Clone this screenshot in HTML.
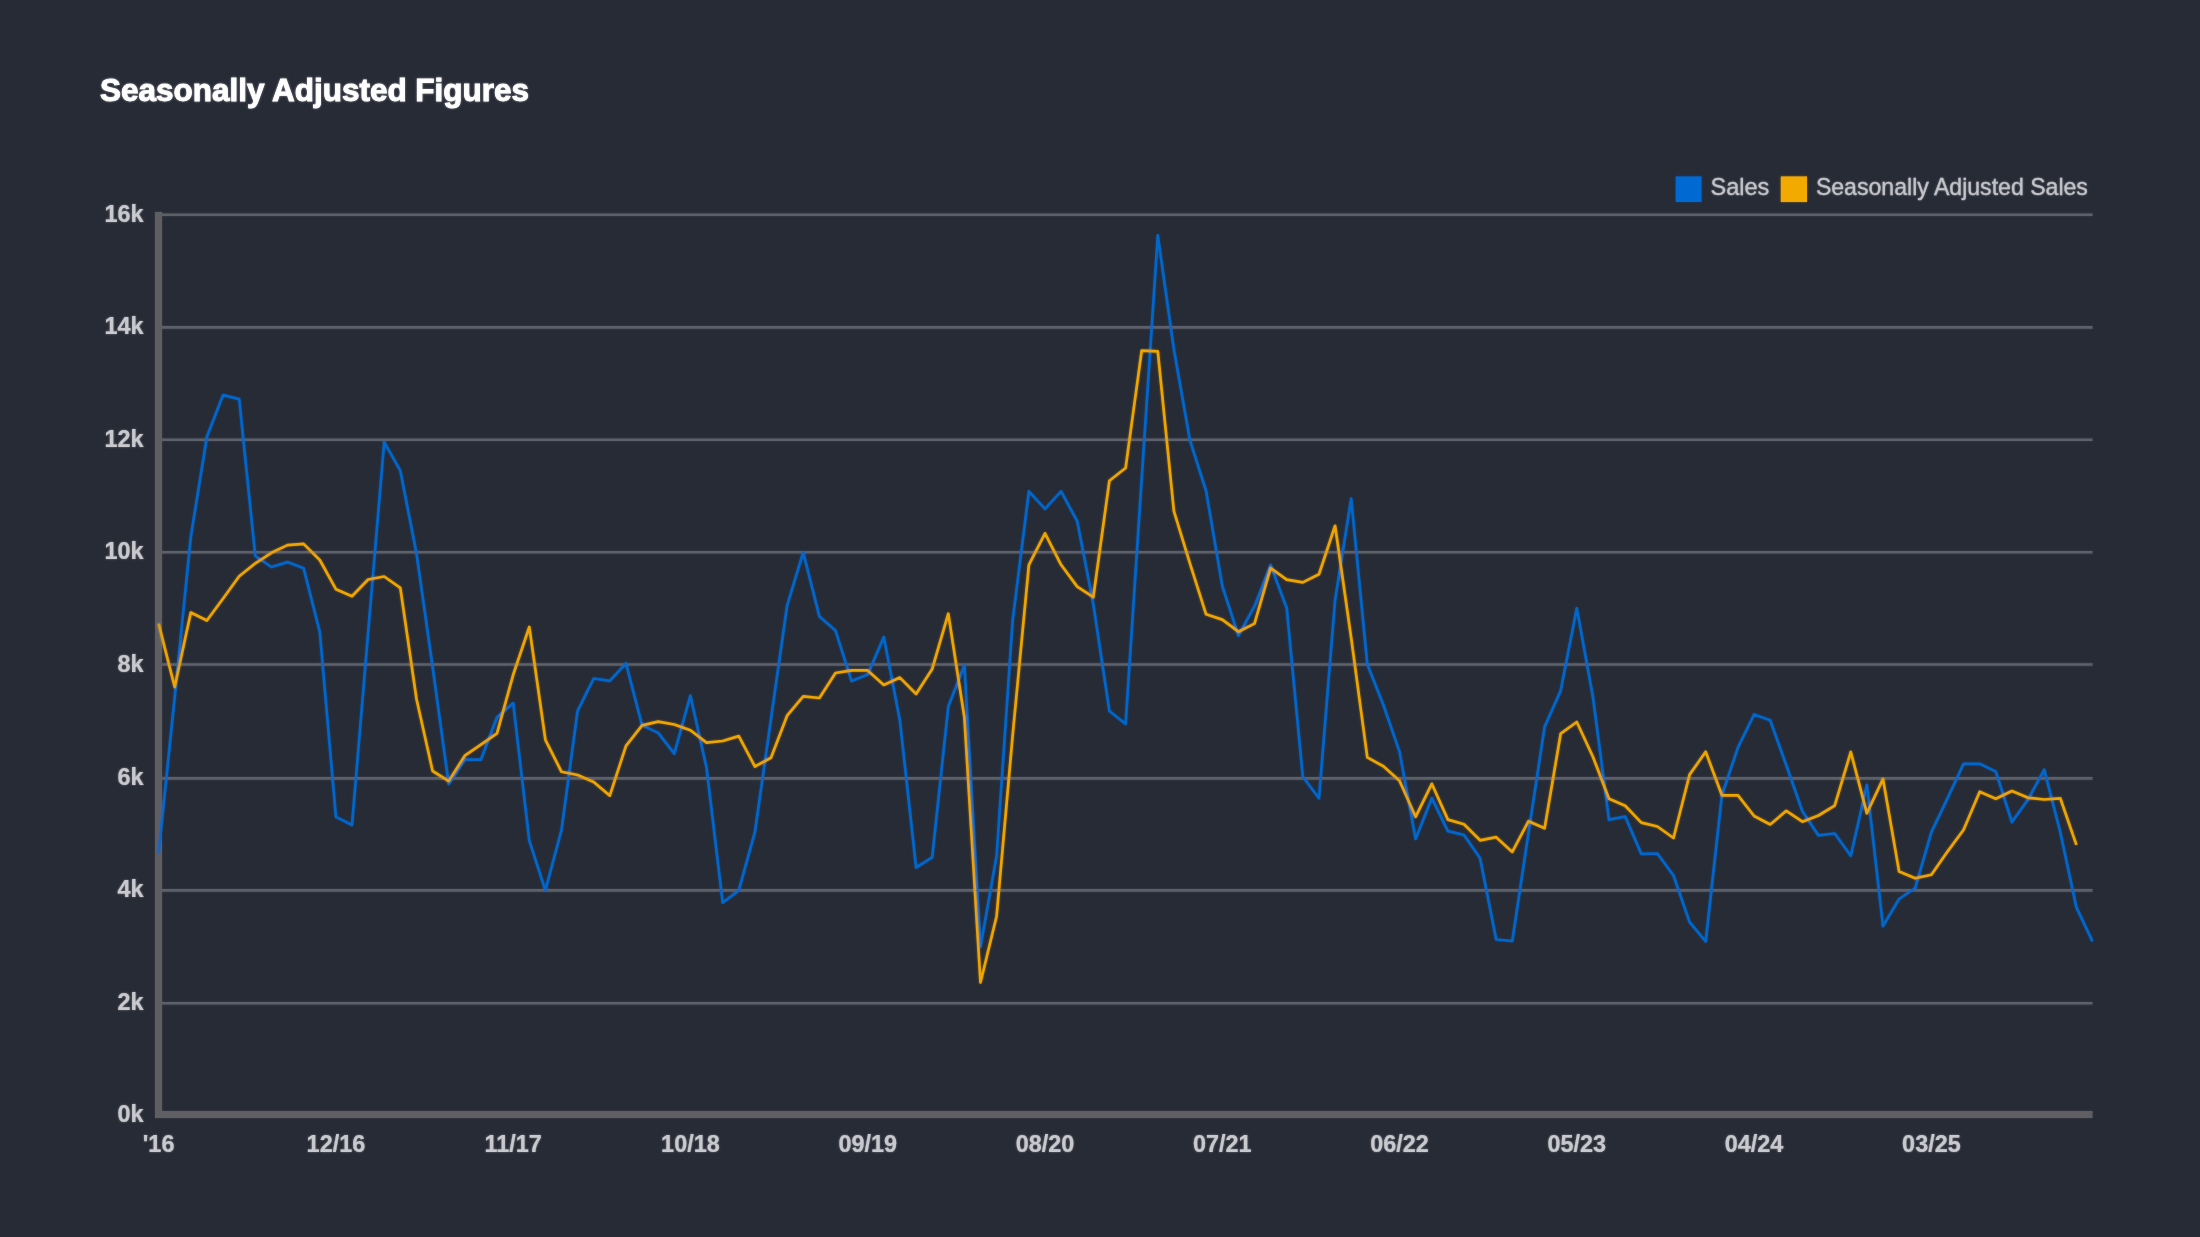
<!DOCTYPE html>
<html><head><meta charset="utf-8"><style>
html,body{margin:0;padding:0;background:#272b36;width:2200px;height:1237px;overflow:hidden}
svg{display:block}
</style></head><body>
<svg width="2200" height="1237" viewBox="0 0 2200 1237">
<defs><filter id="bl" x="0" y="0" width="2200" height="1237" filterUnits="userSpaceOnUse"><feGaussianBlur stdDeviation="0.8"/></filter></defs>
<rect width="2200" height="1237" fill="#272b36"/>
<g id="c">
<g stroke="#5c606a" stroke-width="2.6"><line x1="158" y1="1003.2" x2="2092.5" y2="1003.2"/><line x1="158" y1="890.4" x2="2092.5" y2="890.4"/><line x1="158" y1="778.4" x2="2092.5" y2="778.4"/><line x1="158" y1="664.5" x2="2092.5" y2="664.5"/><line x1="158" y1="552.3" x2="2092.5" y2="552.3"/><line x1="158" y1="439.7" x2="2092.5" y2="439.7"/><line x1="158" y1="327.4" x2="2092.5" y2="327.4"/><line x1="158" y1="214.7" x2="2092.5" y2="214.7"/></g>
<path d="M158.5 212 V1114.6 H2092.5" fill="none" stroke="#5e5f64" stroke-width="7"/>
<polyline fill="none" stroke="#0367cb" stroke-width="2.7" stroke-linejoin="round" points="158.6,853.3 174.7,697.0 190.8,537.0 206.9,436.7 223.1,395.1 239.2,399.1 255.3,556.0 271.4,567.0 287.5,562.1 303.6,568.2 319.8,632.0 335.9,816.9 352.0,825.0 368.1,633.0 384.2,442.2 400.3,470.6 416.5,553.5 432.6,666.7 448.7,784.0 464.8,759.7 480.9,759.7 497.0,717.2 513.2,703.1 529.3,840.6 545.4,890.4 561.5,830.0 577.6,710.9 593.7,678.5 609.8,680.8 626.0,663.3 642.1,725.4 658.2,732.9 674.3,753.6 690.4,695.7 706.5,767.5 722.7,902.7 738.8,890.4 754.9,832.2 771.0,719.0 787.1,605.7 803.2,552.4 819.4,616.4 835.5,630.6 851.6,681.1 867.7,674.6 883.8,637.1 899.9,720.6 916.1,867.5 932.2,857.3 948.3,706.6 964.4,665.2 980.5,946.7 996.6,856.0 1012.7,620.0 1028.9,491.4 1045.0,508.9 1061.1,491.4 1077.2,521.1 1093.3,604.0 1109.4,711.0 1125.6,724.0 1141.7,478.8 1157.8,235.4 1173.9,349.4 1190.0,440.4 1206.1,491.0 1222.3,586.0 1238.4,635.7 1254.5,606.2 1270.6,565.0 1286.7,608.0 1302.8,776.8 1319.0,798.2 1335.1,600.0 1351.2,498.6 1367.3,664.3 1383.4,705.0 1399.5,751.6 1415.6,838.9 1431.8,798.2 1447.9,831.1 1464.0,835.0 1480.1,858.2 1496.2,939.5 1512.3,941.0 1528.5,833.0 1544.6,726.9 1560.7,690.6 1576.8,608.3 1592.9,696.8 1609.0,819.7 1625.2,816.6 1641.3,853.9 1657.4,853.5 1673.5,875.5 1689.6,922.1 1705.7,941.5 1721.9,795.3 1738.0,747.4 1754.1,714.5 1770.2,720.2 1786.3,765.3 1802.4,811.3 1818.5,835.4 1834.7,833.5 1850.8,855.7 1866.9,784.9 1883.0,926.1 1899.1,899.0 1915.2,888.0 1931.4,832.2 1947.5,798.3 1963.6,763.8 1979.7,763.8 1995.8,771.6 2011.9,822.0 2028.1,799.5 2044.2,769.7 2060.3,832.2 2076.4,907.4 2092.5,941.4"/>
<polyline fill="none" stroke="#eea500" stroke-width="2.7" stroke-linejoin="round" points="158.6,623.7 174.7,687.0 190.8,612.5 206.9,620.5 223.1,598.5 239.2,576.3 255.3,563.3 271.4,552.8 287.5,545.1 303.6,543.9 319.8,560.0 335.9,589.2 352.0,596.2 368.1,579.5 384.2,576.5 400.3,587.8 416.5,699.0 432.6,771.0 448.7,781.1 464.8,755.7 480.9,744.7 497.0,733.4 513.2,674.8 529.3,627.0 545.4,739.8 561.5,771.8 577.6,775.0 593.7,782.0 609.8,795.6 626.0,745.8 642.1,725.4 658.2,721.6 674.3,724.5 690.4,730.3 706.5,742.6 722.7,741.0 738.8,736.1 754.9,766.5 771.0,757.8 787.1,715.7 803.2,696.3 819.4,698.0 835.5,673.0 851.6,670.4 867.7,670.4 883.8,685.0 899.9,677.6 916.1,694.0 932.2,669.0 948.3,613.7 964.4,717.5 980.5,982.5 996.6,916.2 1012.7,735.0 1028.9,564.8 1045.0,533.3 1061.1,564.8 1077.2,586.6 1093.3,597.2 1109.4,480.8 1125.6,468.0 1141.7,350.6 1157.8,351.4 1173.9,511.2 1190.0,563.7 1206.1,614.3 1222.3,619.6 1238.4,631.7 1254.5,623.6 1270.6,568.0 1286.7,579.6 1302.8,582.4 1319.0,574.3 1335.1,525.8 1351.2,638.0 1367.3,757.4 1383.4,766.3 1399.5,780.7 1415.6,816.8 1431.8,783.8 1447.9,819.6 1464.0,824.2 1480.1,840.3 1496.2,837.2 1512.3,851.9 1528.5,821.2 1544.6,828.3 1560.7,733.6 1576.8,722.0 1592.9,756.7 1609.0,798.8 1625.2,805.8 1641.3,822.6 1657.4,826.5 1673.5,838.0 1689.6,774.6 1705.7,751.8 1721.9,795.3 1738.0,795.3 1754.1,816.0 1770.2,824.5 1786.3,810.8 1802.4,821.7 1818.5,815.5 1834.7,805.6 1850.8,752.0 1866.9,813.3 1883.0,778.9 1899.1,871.5 1915.2,878.3 1931.4,874.7 1947.5,851.6 1963.6,829.8 1979.7,791.7 1995.8,798.8 2011.9,791.0 2028.1,797.8 2044.2,799.5 2060.3,798.3 2076.4,844.9"/>
<rect x="1675.7" y="176.4" width="25.8" height="25.6" fill="#006bd2"/>
<rect x="1780.8" y="176.4" width="26.2" height="25.6" fill="#f2a900"/>
<g opacity="0.999" font-family="Liberation Sans, sans-serif">
<text x="100" y="101.2" font-weight="bold" font-size="31" fill="#ffffff" stroke="#ffffff" stroke-width="0.9" textLength="429" lengthAdjust="spacingAndGlyphs">Seasonally Adjusted Figures</text>
<g font-weight="bold" font-size="24.2" fill="#c9cace" stroke="#c9cace" stroke-width="0.2" text-anchor="end"><text transform="translate(143.5 1121.6) scale(0.967 1)">0k</text><text transform="translate(143.5 1010.2) scale(0.967 1)">2k</text><text transform="translate(143.5 897.4) scale(0.967 1)">4k</text><text transform="translate(143.5 785.4) scale(0.967 1)">6k</text><text transform="translate(143.5 671.5) scale(0.967 1)">8k</text><text transform="translate(143.5 559.3) scale(0.967 1)">10k</text><text transform="translate(143.5 446.7) scale(0.967 1)">12k</text><text transform="translate(143.5 334.4) scale(0.967 1)">14k</text><text transform="translate(143.5 221.7) scale(0.967 1)">16k</text></g>
<g font-weight="bold" font-size="24.2" fill="#c9cace" stroke="#c9cace" stroke-width="0.2" text-anchor="middle"><text transform="translate(158.6 1151.5) scale(0.967 1)">'16</text><text transform="translate(335.9 1151.5) scale(0.967 1)">12/16</text><text transform="translate(513.2 1151.5) scale(0.967 1)">11/17</text><text transform="translate(690.4 1151.5) scale(0.967 1)">10/18</text><text transform="translate(867.7 1151.5) scale(0.967 1)">09/19</text><text transform="translate(1045.0 1151.5) scale(0.967 1)">08/20</text><text transform="translate(1222.3 1151.5) scale(0.967 1)">07/21</text><text transform="translate(1399.5 1151.5) scale(0.967 1)">06/22</text><text transform="translate(1576.8 1151.5) scale(0.967 1)">05/23</text><text transform="translate(1754.1 1151.5) scale(0.967 1)">04/24</text><text transform="translate(1931.4 1151.5) scale(0.967 1)">03/25</text></g>
<g font-size="24.5" fill="#c3c4c9" stroke="#c3c4c9" stroke-width="0.3">
<text x="1710.5" y="195" textLength="58.8" lengthAdjust="spacingAndGlyphs">Sales</text>
<text x="1815.9" y="195" textLength="272" lengthAdjust="spacingAndGlyphs">Seasonally Adjusted Sales</text>
</g>
</g>
</g>
<use href="#c" filter="url(#bl)" opacity="0.5"/>
</svg>
</body></html>
